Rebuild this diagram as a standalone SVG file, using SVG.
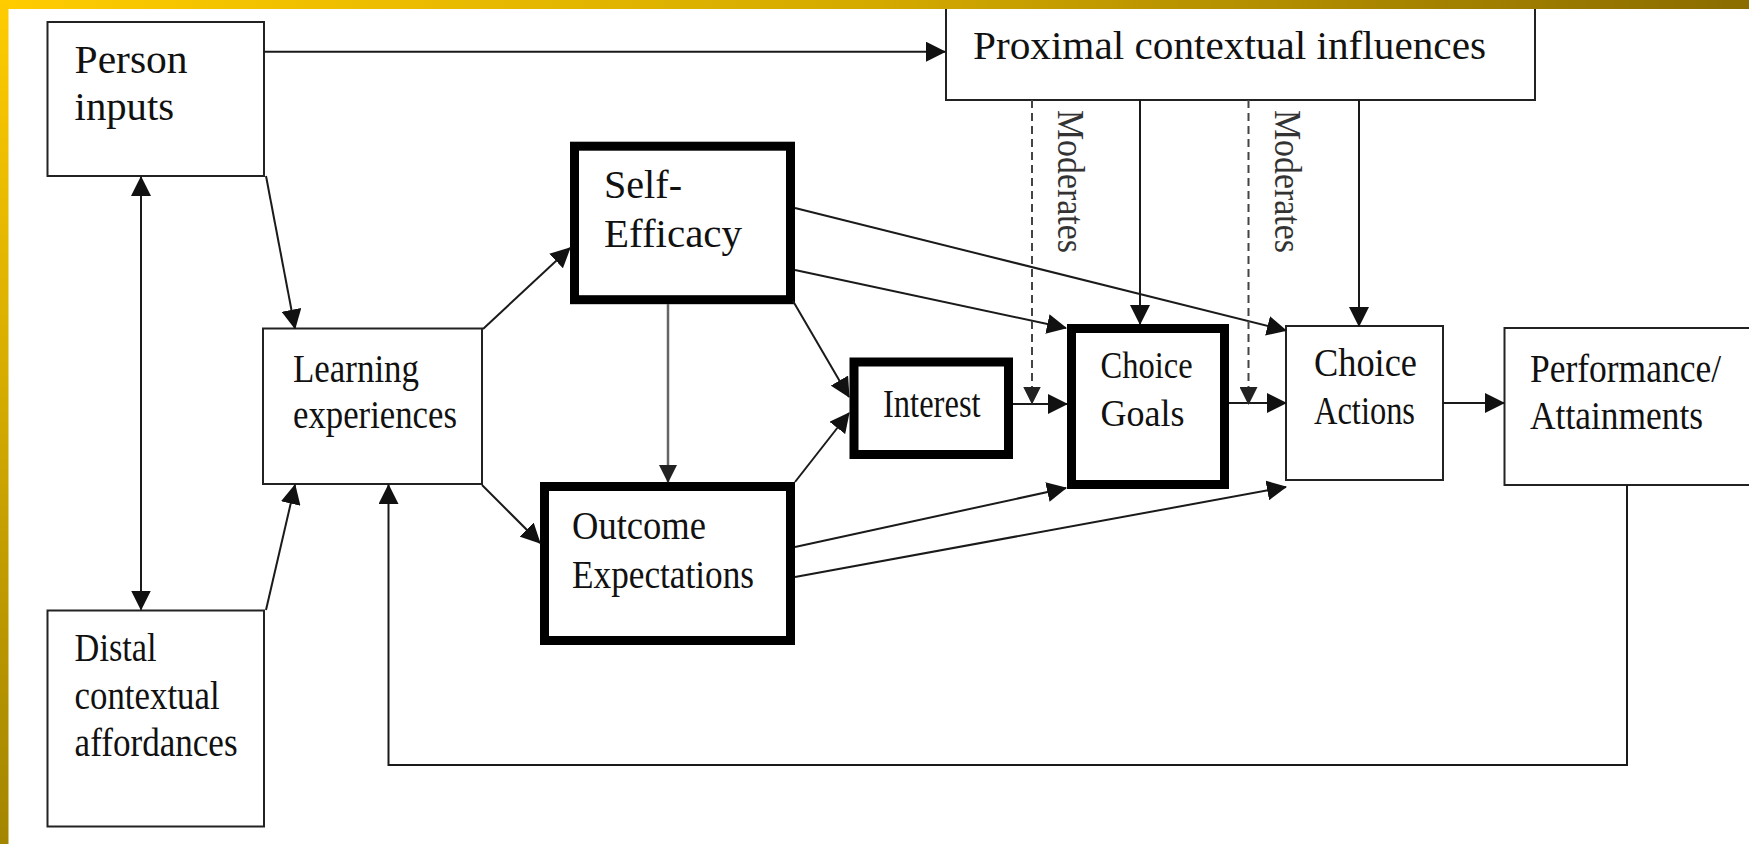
<svg xmlns="http://www.w3.org/2000/svg" width="1749" height="844" viewBox="0 0 1749 844">
<defs>
<linearGradient id="gTop" x1="0" y1="0" x2="1" y2="0">
<stop offset="0" stop-color="#FFCC00"/>
<stop offset="0.5" stop-color="#D4AA00"/>
<stop offset="1" stop-color="#8A6C00"/>
</linearGradient>
<linearGradient id="gLeft" x1="0" y1="0" x2="0" y2="1">
<stop offset="0" stop-color="#FFCC00"/>
<stop offset="1" stop-color="#A38500"/>
</linearGradient>
<marker id="ah" markerUnits="userSpaceOnUse" markerWidth="20" markerHeight="20" refX="19" refY="10" orient="auto-start-reverse" viewBox="0 0 20 20">
<path d="M0,0 L20,10 L0,20 z" fill="#111"/>
</marker>
<marker id="ahs" markerUnits="userSpaceOnUse" markerWidth="18" markerHeight="18" refX="17" refY="9" orient="auto" viewBox="0 0 18 18">
<path d="M0,0 L18,9 L0,18 z" fill="#222"/>
</marker>
</defs>
<style>
.thin{fill:#fff;stroke:#222;stroke-width:2}
.thick{fill:#fff;stroke:#000;stroke-width:9}
.t{font-family:"Liberation Serif","Times New Roman",serif;font-size:40px;fill:#111}
.ln{fill:none;stroke:#1a1a1a;stroke-width:2}
.gray{fill:none;stroke:#666;stroke-width:2.5}
.dash{fill:none;stroke:#444;stroke-width:2;stroke-dasharray:8 5}
.mod{font-family:"Liberation Serif","Times New Roman",serif;font-size:38px;fill:#333}
</style>
<rect x="0" y="0" width="1749" height="844" fill="#fff"/>

<g id="proximal">
<rect class="thin" x="946" y="-2" width="589" height="102"/>
<text class="t" x="973" y="59" textLength="513" lengthAdjust="spacingAndGlyphs">Proximal contextual influences</text>
</g>

<g id="person">
<rect class="thin" x="47.5" y="22" width="216.5" height="154"/>
<text class="t" x="74.6" y="73" textLength="113" lengthAdjust="spacingAndGlyphs">Person</text>
<text class="t" x="74.6" y="120" textLength="99.5" lengthAdjust="spacingAndGlyphs">inputs</text>
</g>

<g id="distal">
<rect class="thin" x="47.5" y="610.5" width="216.5" height="216"/>
<text class="t" x="74.6" y="661" textLength="82" lengthAdjust="spacingAndGlyphs">Distal</text>
<text class="t" x="74.6" y="709" textLength="145" lengthAdjust="spacingAndGlyphs">contextual</text>
<text class="t" x="74.6" y="756" textLength="163" lengthAdjust="spacingAndGlyphs">affordances</text>
</g>

<g id="learning">
<rect class="thin" x="263" y="328.5" width="219" height="155.5"/>
<text class="t" x="293" y="381.5" textLength="126" lengthAdjust="spacingAndGlyphs">Learning</text>
<text class="t" x="293" y="428" textLength="164" lengthAdjust="spacingAndGlyphs">experiences</text>
</g>

<g id="selfefficacy">
<rect class="thick" x="574.5" y="146.2" width="216" height="153.5"/>
<text class="t" x="604" y="198" textLength="78" lengthAdjust="spacingAndGlyphs">Self-</text>
<text class="t" x="604" y="247" textLength="138" lengthAdjust="spacingAndGlyphs">Efficacy</text>
</g>

<g id="outcome">
<rect class="thick" x="544.5" y="486.5" width="246" height="154"/>
<text class="t" x="572" y="539" textLength="134" lengthAdjust="spacingAndGlyphs">Outcome</text>
<text class="t" x="572" y="588" textLength="182" lengthAdjust="spacingAndGlyphs">Expectations</text>
</g>

<g id="interest">
<rect class="thick" x="854" y="362" width="154.5" height="92.5"/>
<text class="t" x="883" y="417" textLength="97.6" lengthAdjust="spacingAndGlyphs">Interest</text>
</g>

<g id="choicegoals">
<rect class="thick" x="1071.5" y="328.5" width="153" height="156"/>
<text class="t" x="1100.6" y="378" style="font-size:37px" textLength="92" lengthAdjust="spacingAndGlyphs">Choice</text>
<text class="t" x="1100.6" y="426" style="font-size:37px" textLength="84" lengthAdjust="spacingAndGlyphs">Goals</text>
</g>

<g id="choiceactions">
<rect class="thin" x="1286" y="326" width="157" height="154"/>
<text class="t" x="1314" y="376" textLength="103" lengthAdjust="spacingAndGlyphs">Choice</text>
<text class="t" x="1314" y="424" textLength="101" lengthAdjust="spacingAndGlyphs">Actions</text>
</g>

<g id="performance">
<rect class="thin" x="1504.5" y="328" width="260" height="157"/>
<text class="t" x="1530" y="381.5" textLength="191" lengthAdjust="spacingAndGlyphs">Performance/</text>
<text class="t" x="1530" y="429" textLength="173" lengthAdjust="spacingAndGlyphs">Attainments</text>
</g>

<g id="connectors">
<line class="ln" x1="264" y1="51.7" x2="945" y2="51.7" marker-end="url(#ah)"/>
<line class="ln" x1="141" y1="177" x2="141" y2="609.5" marker-start="url(#ah)" marker-end="url(#ah)"/>
<line class="ln" x1="266" y1="176" x2="295" y2="328.5" marker-end="url(#ah)"/>
<line class="ln" x1="266" y1="610" x2="295" y2="485" marker-end="url(#ah)"/>
<line class="ln" x1="483" y1="329" x2="570" y2="248" marker-end="url(#ah)"/>
<line class="ln" x1="482" y1="485" x2="540" y2="543" marker-end="url(#ah)"/>
<line class="gray" x1="668" y1="304" x2="668" y2="482" marker-end="url(#ahs)"/>
<line class="ln" x1="793" y1="301" x2="849" y2="397" marker-end="url(#ah)"/>
<line class="ln" x1="795" y1="482" x2="849" y2="413" marker-end="url(#ah)"/>
<line class="ln" x1="795" y1="208" x2="1286" y2="330.5" marker-end="url(#ah)"/>
<line class="ln" x1="795" y1="270" x2="1066" y2="328" marker-end="url(#ah)"/>
<line class="ln" x1="1013" y1="404" x2="1067" y2="404" marker-end="url(#ah)"/>
<line class="ln" x1="795" y1="547" x2="1066" y2="488" marker-end="url(#ah)"/>
<line class="ln" x1="795" y1="577" x2="1286" y2="487" marker-end="url(#ah)"/>
<line class="ln" x1="1229" y1="403" x2="1286" y2="403" marker-end="url(#ah)"/>
<line class="ln" x1="1443" y1="403" x2="1504" y2="403" marker-end="url(#ah)"/>
<line class="ln" x1="1140" y1="100" x2="1140" y2="324" marker-end="url(#ah)"/>
<line class="ln" x1="1359" y1="100" x2="1359" y2="326" marker-end="url(#ah)"/>
<line class="dash" x1="1032" y1="100" x2="1032" y2="403.5" marker-end="url(#ahs)"/>
<line class="dash" x1="1248.5" y1="100" x2="1248.5" y2="404" marker-end="url(#ahs)"/>
<polyline class="ln" points="1627,485 1627,765 388.5,765 388.5,485" marker-end="url(#ah)"/>
<text class="mod" transform="translate(1058,110) rotate(90)" textLength="143" lengthAdjust="spacingAndGlyphs">Moderates</text>
<text class="mod" transform="translate(1275,110) rotate(90)" textLength="143" lengthAdjust="spacingAndGlyphs">Moderates</text>
</g>

<rect x="0" y="0" width="1749" height="9" fill="url(#gTop)"/>
<rect x="0" y="0" width="8.5" height="844" fill="url(#gLeft)"/>
</svg>
